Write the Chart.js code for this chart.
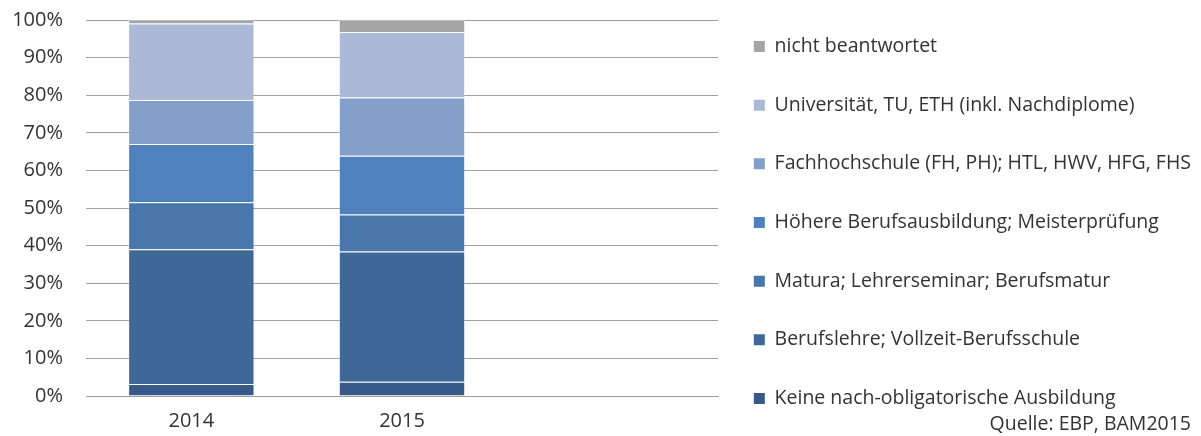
<!DOCTYPE html>
<html>
<head>
<meta charset="utf-8">
<script src="https://cdn.jsdelivr.net/npm/chart.js@4"></script>
<style>
  html, body { margin: 0; padding: 0; background: #fff; overflow: hidden; }
</style>
</head>
<body>
<canvas id="chart" width="1201" height="436"></canvas>
<script>
// categories (third slot stays empty, like the original)
const years = ['2014', '2015', '']

// shares in percent, bottom to top
const keine = [3.2, 3.8]
const berufslehre = [35.8, 34.6]
const matura = [12.5, 9.9]
const hoehere = [15.5, 15.6]
const fachhochschule = [11.7, 15.5]
const universitaet = [20.4, 17.4]
const nichtBeantwortet = [0.9, 3.2]

const seriesLabels = [
  'Keine nach-obligatorische Ausbildung',
  'Berufslehre; Vollzeit-Berufsschule',
  'Matura; Lehrerseminar; Berufsmatur',
  'Höhere Berufsausbildung; Meisterprüfung',
  'Fachhochschule (FH, PH); HTL, HWV, HFG, FHS',
  'Universität, TU, ETH (inkl. Nachdiplome)',
  'nicht beantwortet',
]
const seriesData = [keine, berufslehre, matura, hoehere, fachhochschule, universitaet, nichtBeantwortet]
const seriesColors = ['#375a88', '#3f6899', '#4976ab', '#4f81bd', '#84a0ca', '#abb9d6', '#a5a5a5']

const sourceNote = 'Quelle: EBP, BAM2015'

const fontFamily = "'Open Sans', sans-serif"
const axisFont = 20
const legendFont = 19.5
const textColor = '#333333'
const gridColor = '#a0a0a0'

const legendPad = 10
const legendStep = 58.67
const legendBox = 11
const padTop = 20

Chart.defaults.font.family = fontFamily
Chart.defaults.font.size = axisFont
Chart.defaults.color = textColor

// measure the widest legend entry so the legend sits where it should
const mctx = document.createElement('canvas').getContext('2d')
mctx.font = legendFont + 'px ' + fontFamily
const widest = Math.max(...seriesLabels.map((s) => mctx.measureText(s).width))
const itemWidth = legendBox + legendFont / 2 + widest
const legendWidth = legendPad + itemWidth + 10
const rightPad = Math.max(0, 1201 - (755 - legendPad) - legendWidth)
const legendLeft = 1201 - rightPad - legendWidth
const plotRight = 718

const sourcePlugin = {
  id: 'sourceNote',
  afterDraw(chart) {
    const ctx = chart.ctx
    ctx.save()
    ctx.font = legendFont + 'px ' + fontFamily
    ctx.fillStyle = textColor
    ctx.textAlign = 'right'
    ctx.textBaseline = 'middle'
    ctx.fillText(sourceNote, chart.width - 10, 424)
    ctx.restore()
  },
}

const chart = new Chart(document.getElementById('chart'), {
  type: 'bar',
  data: {
    labels: years,
    datasets: seriesData.map((d, i) => ({
      label: seriesLabels[i],
      data: d,
      backgroundColor: seriesColors[i],
      borderColor: 'rgba(255, 255, 255, 0.3)',
      borderWidth: 1,
      barPercentage: 0.6,
      categoryPercentage: 1.0,
    })),
  },
  options: {
    responsive: false,
    animation: false,
    layout: {
      padding: { top: padTop, bottom: 0, left: 0, right: rightPad },
    },
    plugins: {
      title: { display: false },
      tooltip: { enabled: false },
      legend: {
        position: 'right',
        align: 'start',
        reverse: true,
        maxWidth: 700,
        // empty title only used as a small top offset for the column
        title: { display: true, text: '', padding: 0, font: { size: 5, lineHeight: 1.35 } },
        labels: {
          boxWidth: legendBox,
          boxHeight: legendBox,
          padding: legendPad,
          color: textColor,
          font: { size: legendFont, lineHeight: (legendStep - legendPad) / legendFont },
          generateLabels: (c) => {
            const items = Chart.defaults.plugins.legend.labels.generateLabels(c)
            return items.map((it) => ({
              ...it,
              lineWidth: 0,
              strokeStyle: it.fillStyle,
              // keep the last row a plain string so the column stays in one piece
              text: it.datasetIndex === 0 ? it.text : [it.text],
            }))
          },
        },
      },
    },
    scales: {
      x: {
        stacked: true,
        grid: { display: false, drawTicks: false },
        border: { color: gridColor },
        ticks: { padding: 13 },
        afterFit: (s) => { s.height = 436 - 396 },
      },
      y: {
        stacked: true,
        min: 0,
        max: 100,
        ticks: {
          stepSize: 10,
          padding: 23,
          callback: (v) => v + '%',
        },
        grid: { color: gridColor, drawTicks: false },
        border: { display: false },
        afterFit: (s) => {
          s.width = 86
          s.paddingTop = 0
          s.paddingBottom = 0
        },
      },
      spacer: {
        type: 'linear',
        position: 'right',
        display: true,
        grid: { display: false, drawTicks: false },
        ticks: { display: false },
        border: { display: false },
        afterFit: (s) => { s.width = legendLeft - plotRight },
      },
    },
  },
  plugins: [sourcePlugin],
})
</script>
</body>
</html>
